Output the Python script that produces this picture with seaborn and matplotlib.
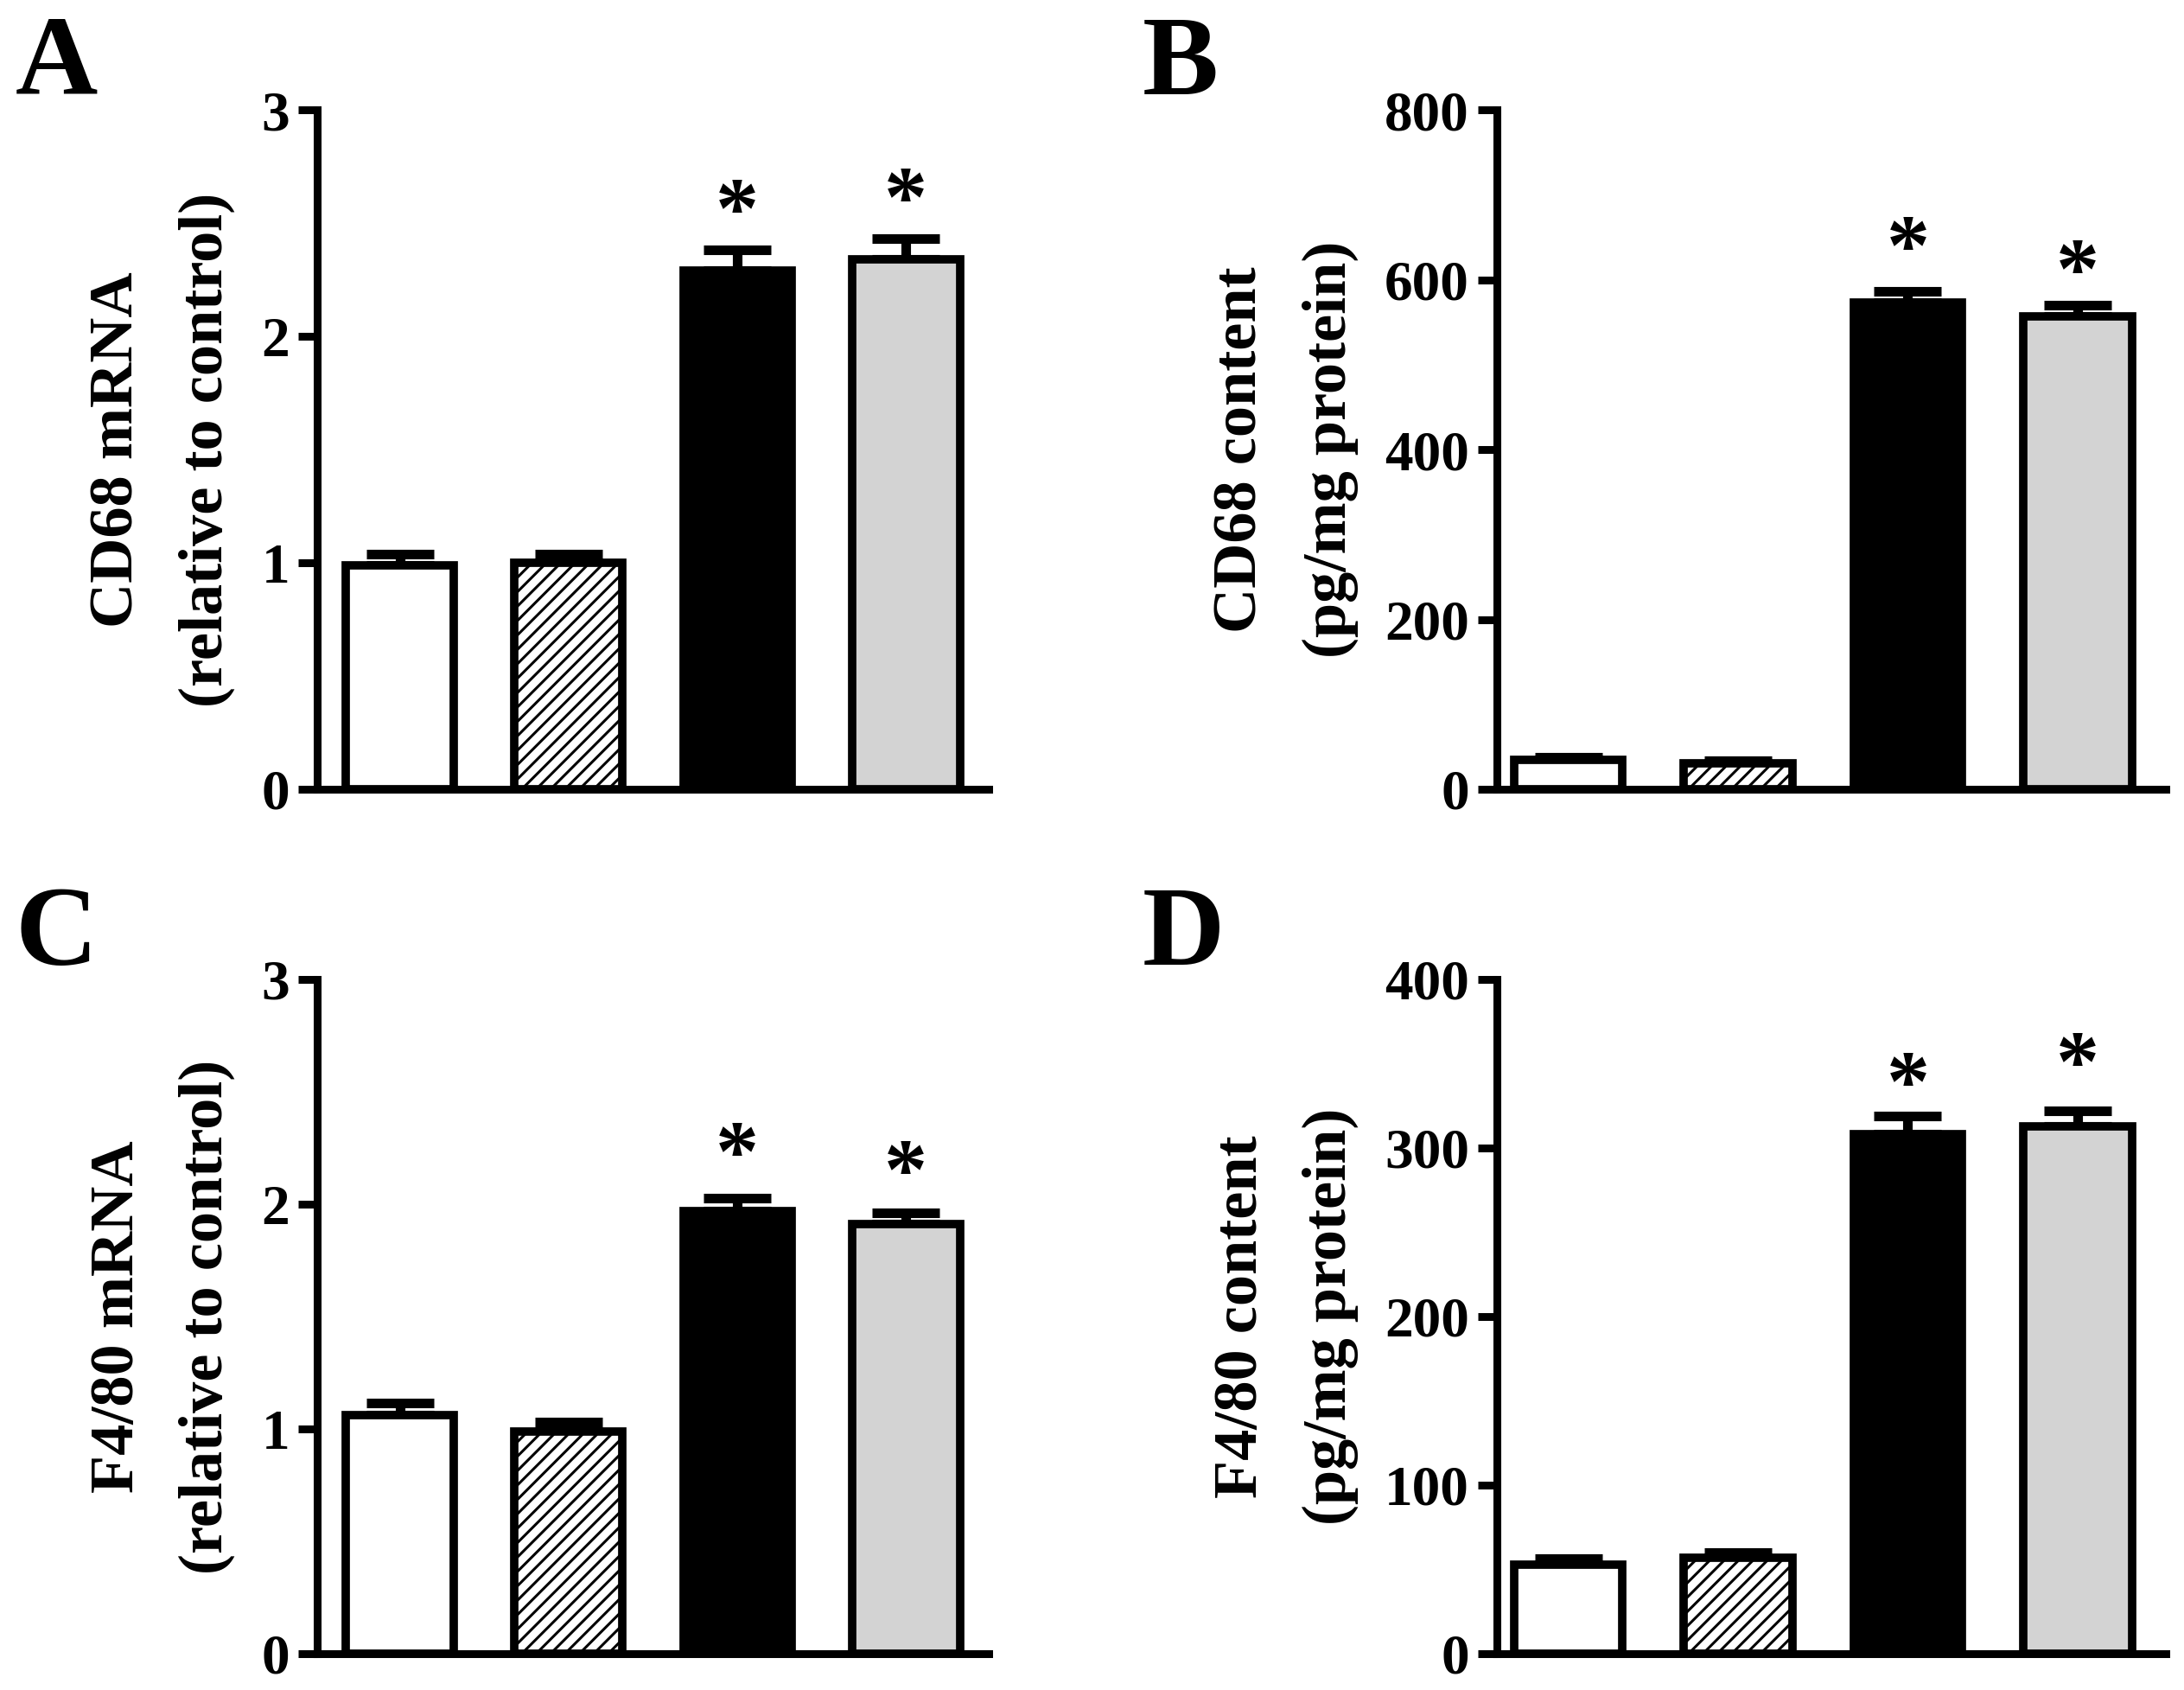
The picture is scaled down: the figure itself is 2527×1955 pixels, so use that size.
import numpy as np
import pandas as pd
import seaborn as sns
import matplotlib.pyplot as plt

groups = ["ctrl", "ctrl_hatch", "treat_black", "treat_gray"]
bar_colors = ["white", "white", "black", "#d3d3d3"]

cd68_mrna = [0.99, 1.00, 2.29, 2.34]
cd68_mrna_err = [0.05, 0.04, 0.09, 0.09]
cd68_mrna_star = [np.nan, np.nan, 2.63, 2.68]

cd68_content = [35, 31, 573, 557]
cd68_content_err = [3, 3, 13, 13]
cd68_content_star = [np.nan, np.nan, 658, 630]

f480_mrna = [1.06, 0.99, 1.97, 1.91]
f480_mrna_err = [0.055, 0.04, 0.055, 0.05]
f480_mrna_star = [np.nan, np.nan, 2.30, 2.22]

f480_content = [53, 57, 308, 313]
f480_content_err = [3.5, 3, 11, 9]
f480_content_star = [np.nan, np.nan, 348, 360]

sns.set_style("ticks")
plt.rcParams["font.family"] = ["Liberation Serif", "DejaVu Serif"]
plt.rcParams["font.weight"] = "bold"
plt.rcParams["hatch.linewidth"] = 2.2
for key in ["text.color", "axes.labelcolor", "xtick.color", "ytick.color", "axes.edgecolor"]:
    plt.rcParams[key] = "black"

fig = plt.figure(figsize=(25.27, 19.55), dpi=100)

panels = [
    ("A", [0.1452, 0.533, 0.3075, 0.402], cd68_mrna, cd68_mrna_err, cd68_mrna_star,
     "CD68 mRNA\n(relative to control)", (0, 3), [0, 1, 2, 3], (-0.49, 3.49), (18, 18)),
    ("B", [0.6854, 0.533, 0.3063, 0.402], cd68_content, cd68_content_err, cd68_content_star,
     "CD68 content\n(pg/mg protein)", (0, 800), [0, 200, 400, 600, 800], (-0.42, 3.52), (1322, 18)),
    ("C", [0.1452, 0.0215, 0.3075, 0.399], f480_mrna, f480_mrna_err, f480_mrna_star,
     "F4/80 mRNA\n(relative to control)", (0, 3), [0, 1, 2, 3], (-0.49, 3.49), (18, 1025)),
    ("D", [0.6854, 0.0215, 0.3063, 0.399], f480_content, f480_content_err, f480_content_star,
     "F4/80 content\n(pg/mg protein)", (0, 400), [0, 100, 200, 300, 400], (-0.42, 3.52), (1322, 1025)),
]

W, H = 2527, 1955
for letter, rect, vals, errs, stars, ylab, ylim, yticks, xlim, lpos in panels:
    ax = fig.add_axes(rect)
    df = pd.DataFrame({"group": groups, "value": vals})
    x = np.arange(len(groups))
    ax.errorbar(x, vals, yerr=[np.zeros(len(vals)), errs], fmt="none",
                ecolor="black", elinewidth=8, capsize=28, capthick=8, zorder=1)
    sns.barplot(data=df, x="group", y="value", hue="group", order=groups,
                hue_order=groups, palette=bar_colors, legend=False, width=0.64,
                edgecolor="black", linewidth=7, saturation=1, ax=ax, zorder=2)
    ax.patches[1].set_hatch("//")
    # star glyph sits high in its box, so shift the anchor down a bit
    for i, s in enumerate(stars):
        if not np.isnan(s):
            ax.annotate("*", xy=(i, s), xytext=(0, -18), textcoords="offset points",
                        ha="center", va="center", fontsize=72, fontweight="bold")

    ax.set_ylim(*ylim)
    ax.set_xlim(*xlim)
    ax.set_yticks(yticks)
    ax.set_ylabel(ylab, fontsize=52, fontweight="bold", labelpad=22, linespacing=1.75)
    ax.set_xlabel("")
    ax.tick_params(axis="x", length=0, labelbottom=False)
    ax.tick_params(axis="y", length=16, width=6.5, labelsize=47, pad=7, direction="out")
    for lab in ax.get_yticklabels():
        lab.set_fontweight("bold")
    sns.despine(ax=ax)
    ax.spines["left"].set_linewidth(6.5)
    ax.spines["bottom"].set_linewidth(6.5)

    fig.text(lpos[0] / W, 1 - lpos[1] / H, letter, ha="left", va="top",
             fontsize=95, fontweight="bold")

fig.savefig("out.png", dpi=100)
